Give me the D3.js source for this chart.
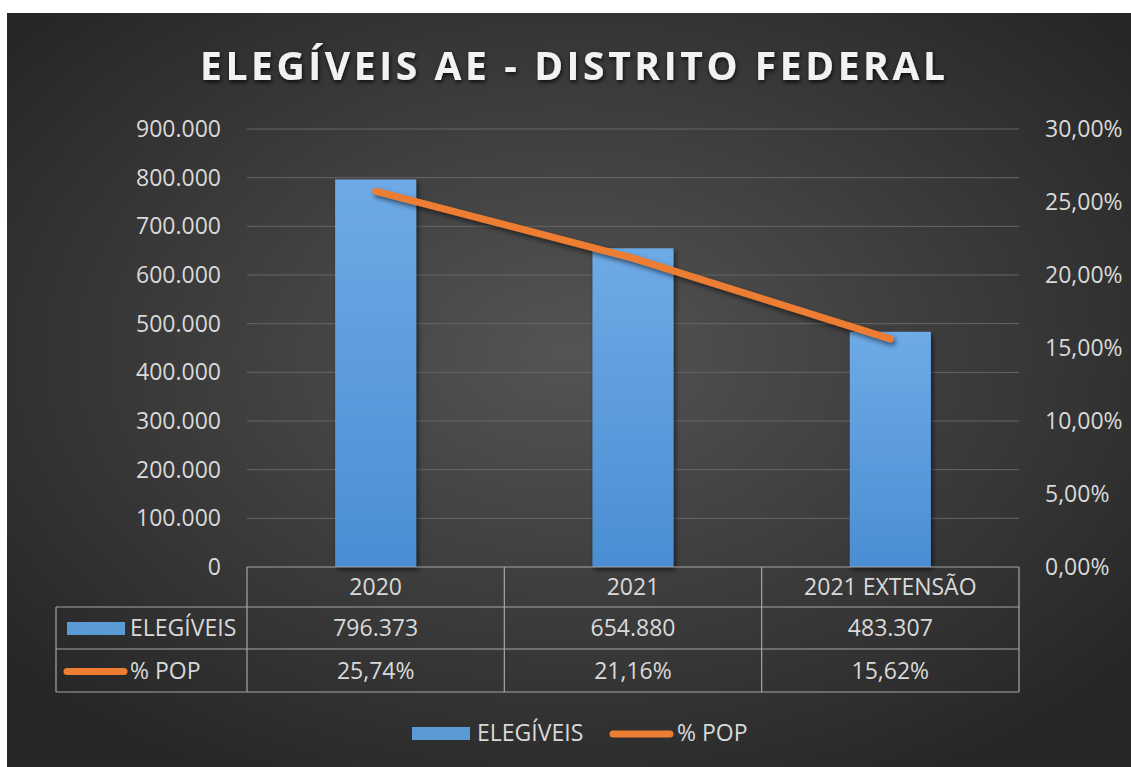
<!DOCTYPE html>
<html>
<head>
<meta charset="utf-8">
<script src="https://cdn.jsdelivr.net/npm/d3@7"></script>
<style>
  body { margin: 0; background: #fff; }
  text { font-family: 'Open Sans', sans-serif; }
</style>
</head>
<body>
<div id="chart"></div>
<script>
const categories = ['2020', '2021', '2021 EXTENSÃO'];
const elegiveis = [796373, 654880, 483307];
const pctPop = [0.2574, 0.2116, 0.1562];
const leftTicks = [0, 100000, 200000, 300000, 400000, 500000, 600000, 700000, 800000, 900000];
const rightTicks = [0, 0.05, 0.1, 0.15, 0.2, 0.25, 0.3];
const seriesNames = ['ELEGÍVEIS', '% POP'];
const title = 'ELEGÍVEIS AE - DISTRITO FEDERAL';

const WIDTH = 1131;
const HEIGHT = 767;
const PLOT_LEFT = 247;
const PLOT_RIGHT = 1019;
const PLOT_TOP = 129;
const PLOT_BOTTOM = 567;
const ROW_H = [40, 42, 43];
const TABLE_LEFT = 56;
const TEXT_COLOR = '#d9d9d9';
const BLUE = '#5b9bd5';
const ORANGE = '#ed7d31';

const ptBR = d3.formatLocale({ decimal: ',', thousands: '.', grouping: [3], currency: ['R$', ''] });
const fmtNum = ptBR.format(',.0f');
const fmtPct = ptBR.format('.2%');

const svg = d3.select('#chart').append('svg').attr('width', WIDTH).attr('height', HEIGHT);
const defs = svg.append('defs');

const bg = defs.append('radialGradient').attr('id', 'bg')
  .attr('cx', '50%').attr('cy', '45%').attr('r', '65%');
bg.append('stop').attr('offset', '0%').attr('stop-color', '#545454');
bg.append('stop').attr('offset', '100%').attr('stop-color', '#262626');

const barGrad = defs.append('linearGradient').attr('id', 'barGrad')
  .attr('x1', 0).attr('y1', 0).attr('x2', 0).attr('y2', 1);
barGrad.append('stop').attr('offset', '0%').attr('stop-color', '#6eaae6');
barGrad.append('stop').attr('offset', '100%').attr('stop-color', '#4a8ed3');

const shadow = defs.append('filter').attr('id', 'shadow')
  .attr('x', '-20%').attr('y', '-20%').attr('width', '140%').attr('height', '140%');
shadow.append('feDropShadow').attr('dx', 2).attr('dy', 3).attr('stdDeviation', 2.5)
  .attr('flood-color', '#000').attr('flood-opacity', 0.55);

const titleShadow = defs.append('filter').attr('id', 'titleShadow');
titleShadow.append('feDropShadow').attr('dx', 1).attr('dy', 2).attr('stdDeviation', 2)
  .attr('flood-color', '#000').attr('flood-opacity', 0.8);

svg.append('rect').attr('x', 7).attr('y', 13).attr('width', WIDTH - 7).attr('height', HEIGHT - 13)
  .attr('fill', 'url(#bg)');

// title
svg.append('text')
  .attr('x', 200).attr('y', 80)
  .attr('textLength', 745).attr('lengthAdjust', 'spacing')
  .attr('font-size', 39).attr('font-weight', 700)
  .attr('fill', '#f2f2f2').attr('filter', 'url(#titleShadow)')
  .text(title);

const xScale = d3.scaleBand().domain(categories).range([PLOT_LEFT, PLOT_RIGHT]);
const yScale = d3.scaleLinear().domain([0, 900000]).range([PLOT_BOTTOM, PLOT_TOP]);
const y2Scale = d3.scaleLinear().domain([0, 0.3]).range([PLOT_BOTTOM, PLOT_TOP]);

// gridlines
svg.append('g')
  .selectAll('line')
  .data(leftTicks.filter((t) => t > 0))
  .join('line')
  .attr('x1', PLOT_LEFT).attr('x2', PLOT_RIGHT)
  .attr('y1', (d) => yScale(d)).attr('y2', (d) => yScale(d))
  .attr('stroke', '#676767').attr('stroke-width', 1);

const axisLeft = d3.axisLeft(yScale).tickValues(leftTicks).tickFormat(fmtNum)
  .tickSize(0).tickPadding(26);
const axisRight = d3.axisRight(y2Scale).tickValues(rightTicks).tickFormat(fmtPct)
  .tickSize(0).tickPadding(26);

const gl = svg.append('g').attr('transform', `translate(${PLOT_LEFT},0)`).call(axisLeft);
const gr = svg.append('g').attr('transform', `translate(${PLOT_RIGHT},0)`).call(axisRight);
[gl, gr].forEach((g) => {
  g.select('.domain').remove();
  g.selectAll('text').attr('font-size', 23).attr('fill', TEXT_COLOR)
    .attr('font-family', "'Open Sans', sans-serif");
});

// bars
const barWidth = xScale.bandwidth() * 0.315;
svg.append('g')
  .selectAll('rect')
  .data(elegiveis)
  .join('rect')
  .attr('x', (d, i) => xScale(categories[i]) + (xScale.bandwidth() - barWidth) / 2)
  .attr('y', (d) => yScale(d))
  .attr('width', barWidth)
  .attr('height', (d) => PLOT_BOTTOM - yScale(d))
  .attr('fill', 'url(#barGrad)')
  .attr('filter', 'url(#shadow)');

// line
const line = d3.line()
  .x((d, i) => xScale(categories[i]) + xScale.bandwidth() / 2)
  .y((d) => y2Scale(d));
svg.append('path')
  .datum(pctPop)
  .attr('d', line)
  .attr('fill', 'none')
  .attr('stroke', ORANGE)
  .attr('stroke-width', 7)
  .attr('stroke-linecap', 'round')
  .attr('stroke-linejoin', 'round')
  .attr('filter', 'url(#shadow)');

// data table
const rowY = [PLOT_BOTTOM, PLOT_BOTTOM + ROW_H[0], PLOT_BOTTOM + ROW_H[0] + ROW_H[1],
  PLOT_BOTTOM + ROW_H[0] + ROW_H[1] + ROW_H[2]];
const table = svg.append('g').attr('stroke', '#a6a6a6').attr('stroke-width', 1.2);
table.append('line').attr('x1', PLOT_LEFT).attr('x2', PLOT_RIGHT).attr('y1', rowY[0]).attr('y2', rowY[0]);
rowY.slice(1).forEach((y) => {
  table.append('line').attr('x1', TABLE_LEFT).attr('x2', PLOT_RIGHT).attr('y1', y).attr('y2', y);
});
table.append('line').attr('x1', TABLE_LEFT).attr('x2', TABLE_LEFT).attr('y1', rowY[1]).attr('y2', rowY[3]);
categories.forEach((c) => {
  table.append('line').attr('x1', xScale(c)).attr('x2', xScale(c)).attr('y1', rowY[0]).attr('y2', rowY[3]);
});
table.append('line').attr('x1', PLOT_RIGHT).attr('x2', PLOT_RIGHT).attr('y1', rowY[0]).attr('y2', rowY[3]);

const rows = [categories, elegiveis.map(fmtNum), pctPop.map(fmtPct)];
rows.forEach((vals, r) => {
  svg.append('g')
    .selectAll('text')
    .data(vals)
    .join('text')
    .attr('x', (d, i) => xScale(categories[i]) + xScale.bandwidth() / 2)
    .attr('y', (rowY[r] + rowY[r + 1]) / 2)
    .attr('dy', '0.35em')
    .attr('text-anchor', 'middle')
    .attr('font-size', 23)
    .attr('fill', TEXT_COLOR)
    .text((d) => d);
});

const drawKey = (g, x, yMid, i) => {
  if (i === 0) {
    g.append('rect').attr('x', x).attr('y', yMid - 7).attr('width', 58).attr('height', 13)
      .attr('fill', BLUE);
  } else {
    g.append('line').attr('x1', x + 3).attr('x2', x + 60).attr('y1', yMid).attr('y2', yMid)
      .attr('stroke', ORANGE).attr('stroke-width', 7).attr('stroke-linecap', 'round');
  }
};

// table legend keys
seriesNames.forEach((name, i) => {
  const yMid = (rowY[i + 1] + rowY[i + 2]) / 2;
  const g = svg.append('g');
  drawKey(g, i === 0 ? 67 : 64, yMid + 1, i);
  g.append('text').attr('x', 130).attr('y', yMid).attr('dy', '0.35em')
    .attr('font-size', 23).attr('fill', TEXT_COLOR).text(name);
});

// bottom legend
const legendX = [412, 610];
seriesNames.forEach((name, i) => {
  const g = svg.append('g');
  drawKey(g, legendX[i], 734, i);
  g.append('text').attr('x', legendX[i] + (i === 0 ? 65 : 67)).attr('y', 733).attr('dy', '0.35em')
    .attr('font-size', 23).attr('fill', TEXT_COLOR).text(name);
});
</script>
</body>
</html>
